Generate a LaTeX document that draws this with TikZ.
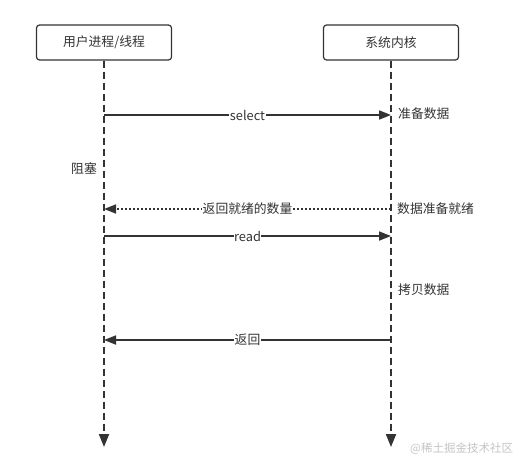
\documentclass[tikz,border=0pt]{standalone}
\usepackage{fontspec}
\setmainfont{Noto Sans CJK SC}
\usepackage{tikz}
\usetikzlibrary{arrows.meta}
\definecolor{ink}{HTML}{333333}
\definecolor{mark}{HTML}{C4C4C4}
\tikzset{
	actor/.style={draw=ink, line width=1.2pt, rounded corners=3pt, minimum width=135pt, minimum height=35pt, text=ink, font=\fontsize{12.8}{15}\selectfont},
	life/.style={draw=ink, line width=2pt, dash pattern=on 7pt off 4pt, -{Triangle[length=13pt,width=10pt]}},
	msg/.style={draw=ink, line width=1.7pt, -{Triangle[length=12pt,width=9pt]}},
	reply/.style={msg, dash pattern=on 2pt off 2pt},
	lbl/.style={fill=white, inner sep=0.5pt, text=ink, font=\fontsize{12.8}{15}\selectfont},
	note/.style={text=ink, inner sep=0pt, font=\fontsize{12.8}{15}\selectfont}
}
\begin{document}
\begin{tikzpicture}[x=1pt, y=-1pt]
	\useasboundingbox (0,0) rectangle (521,468);
	% the two parties
	\node[actor] (user) at (104,42.5) {用户进程/线程};
	\node[actor] (kernel) at (391,42.5) {系统内核};
	\coordinate (userend) at (104,447);
	\coordinate (kernelend) at (391,447);
	\draw[life] (user.south) -- (userend);
	\draw[life] (kernel.south) -- (kernelend);
	% points on the lifelines
	\coordinate (u1) at (104,115); \coordinate (k1) at (391,115);
	\coordinate (u2) at (104,209); \coordinate (k2) at (391,209);
	\coordinate (u3) at (104,236); \coordinate (k3) at (391,236);
	\coordinate (u4) at (104,340); \coordinate (k4) at (391,340);
	% messages
	\draw[msg] (u1) -- node[lbl] (select) {select} (k1);
	\draw[reply] (k2) -- node[lbl] (count) {返回就绪的数量} (u2);
	\draw[msg] (u3) -- node[lbl] (read) {read} (k3);
	\draw[msg] (k4) -- node[lbl] (back) {返回} (u4);
	% notes
	\node[note, anchor=west] (prep) at (398,114) {准备数据};
	\node[note, anchor=east] (block) at (97,169) {阻塞};
	\node[note, anchor=west] (ready) at (397,209) {数据准备就绪};
	\node[note, anchor=west] (copy) at (398,290) {拷贝数据};
	\node[anchor=west, inner sep=0pt, text=mark, font=\fontsize{11.5}{13}\selectfont] (wm) at (410,449) {@稀土掘金技术社区};
\end{tikzpicture}
\end{document}
